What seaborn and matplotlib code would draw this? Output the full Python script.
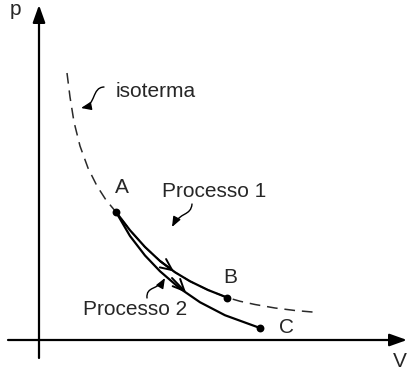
import matplotlib
matplotlib.use('Agg')
import matplotlib.pyplot as plt
import seaborn as sns
from matplotlib.patches import FancyArrowPatch
from matplotlib.path import Path

# p-V diagram, values (arbitrary units)
iso_V = [1.12, 1.24, 1.40, 1.64, 1.96, 2.32, 2.68, 3.08, 3.64, 4.24, 4.84, 5.44, 6.04, 6.76, 7.52,
         8.04, 8.64, 9.44, 10.24, 11.16]
iso_p = [10.68, 9.72, 8.72, 7.76, 6.88, 6.16, 5.60, 5.12, 4.39, 3.72, 3.16, 2.71, 2.35, 2.00, 1.70,
         1.55, 1.42, 1.28, 1.18, 1.10]

# Processo 1: A -> B along the isotherm
proc1_V = [3.08, 3.64, 4.24, 4.84, 5.44, 6.04, 6.76, 7.52]
proc1_p = [5.12, 4.39, 3.72, 3.16, 2.71, 2.35, 2.00, 1.70]

# Processo 2: A -> C
proc2_V = [3.08, 3.64, 4.24, 4.84, 5.64, 6.44, 7.44, 8.84]
proc2_p = [5.12, 4.16, 3.38, 2.75, 2.06, 1.51, 0.99, 0.48]

state_names = ['A', 'B', 'C']
state_V = [3.08, 7.52, 8.84]
state_p = [5.12, 1.70, 0.48]

sns.set_style('white')
plt.rcParams['font.family'] = ['Liberation Sans', 'DejaVu Sans']

fig = plt.figure(figsize=(4.09, 3.71), dpi=100)
ax = fig.add_axes([0, 0, 1, 1])
ax.set_xlim(-1.56, 14.8)
ax.set_ylim(-1.24, 13.6)
ax.set_axis_off()

# axes with arrows
axis_arrow = dict(arrowstyle='-|>,head_length=0.7,head_width=0.25', lw=1.6,
                  color='black', shrinkA=0, shrinkB=0, mutation_scale=15)
ax.annotate('', xy=(14.72, 0), xytext=(-1.24, 0), arrowprops=axis_arrow)
ax.annotate('', xy=(0, 13.4), xytext=(0, -0.72), arrowprops=axis_arrow)
ax.text(-0.96, 13.0, 'p', fontsize=15, ha='center', va='baseline')
ax.text(14.44, -1.08, 'V', fontsize=15, ha='center', va='baseline')

# isotherm (dashed) and the two processes
sns.lineplot(x=iso_V, y=iso_p, sort=False, estimator=None, ax=ax,
             color='#2a2a2a', lw=1.1, linestyle=(0, (7, 4.5)))
for xs, ys in [(proc1_V, proc1_p), (proc2_V, proc2_p)]:
    sns.lineplot(x=xs, y=ys, sort=False, estimator=None, ax=ax,
                 color='black', lw=1.6, solid_joinstyle='round', solid_capstyle='round')
sns.scatterplot(x=state_V, y=state_p, ax=ax, color='black', s=32, linewidth=0, zorder=5)

# direction arrows on the curves
for tail, tip in [((4.84, 3.16), (5.40, 2.74)), ((5.32, 2.48), (5.88, 1.90))]:
    ax.annotate('', xy=tip, xytext=tail,
                arrowprops=dict(arrowstyle='->,head_length=0.55,head_width=0.25', lw=1.4,
                                color='black', shrinkA=0, shrinkB=0, mutation_scale=15))

# state labels
label_pos = [(3.32, 5.88), (7.64, 2.28), (9.88, 0.28)]
for name, (x, y) in zip(state_names, label_pos):
    ax.text(x, y, name, fontsize=15, ha='center', va='baseline')

# annotations with curly pointers
ax.text(3.08, 9.72, 'isoterma', fontsize=15, ha='left', va='baseline')
ax.text(4.92, 5.72, 'Processo 1', fontsize=15, ha='left', va='baseline')
ax.text(1.76, 1.0, 'Processo 2', fontsize=15, ha='left', va='baseline')

pointers = [
    [(2.6, 10.12), (2.1, 10.1), (2.3, 9.4), (1.68, 9.28)],
    [(6.12, 5.44), (6.08, 4.96), (5.64, 5.12), (5.32, 4.52)],
    [(4.32, 1.68), (4.28, 2.16), (4.76, 2.0), (5.04, 2.48)],
]
codes = [Path.MOVETO, Path.CURVE4, Path.CURVE4, Path.CURVE4]
for verts in pointers:
    arr = FancyArrowPatch(path=Path(verts, codes),
                          arrowstyle='-|>,head_length=0.4,head_width=0.16',
                          mutation_scale=15, lw=1.0, color='black')
    ax.add_patch(arr)

fig.savefig('out.png', dpi=100)
